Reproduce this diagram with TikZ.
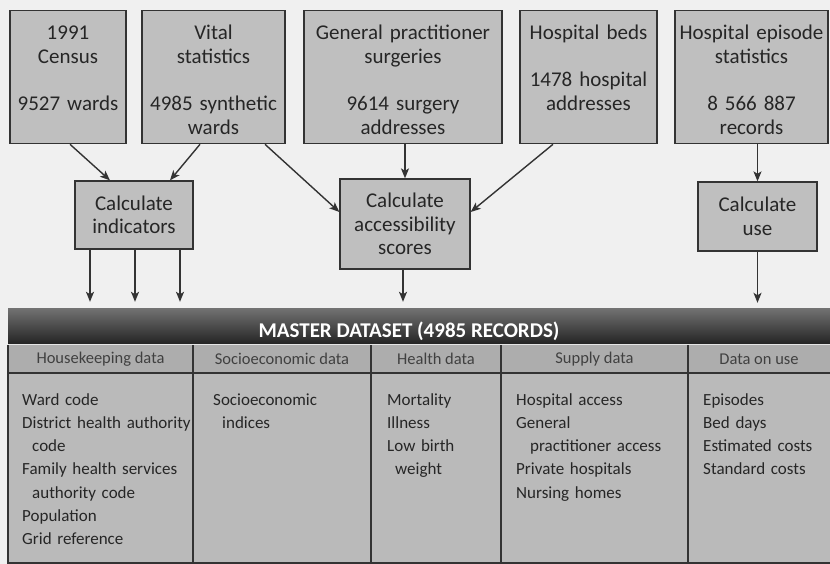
\documentclass[tikz,border=0pt]{standalone}
\usepackage{fontspec}
\setmainfont{Carlito}
\usetikzlibrary{arrows.meta}
\hyphenpenalty=10000

\tikzset{
  srcbox/.style={draw=black!80, line width=1.3pt, fill=gray!50, inner sep=0pt,
    anchor=north, align=center, text width=#1, text height=29pt, text depth=104pt,
    minimum height=133pt, font=\fontsize{21}{24}\selectfont, text=black!85},
  calcbox/.style={draw=black!80, line width=1.3pt, fill=gray!50, inner sep=0pt,
    align=center, font=\fontsize{21}{23.5}\selectfont, text=black!85},
  arr/.style={-{Stealth[length=10pt,width=8pt,inset=2.5pt]}, line width=1.4pt, draw=black!80},
  hdtext/.style={font=\fontsize{16.5}{19}\selectfont, text=black!75, inner sep=0pt},
  coltext/.style={anchor=base west, inner sep=0pt, align=left, text width=#1,
    font=\fontsize{17}{23.3}\selectfont, text=black!85},
}

\begin{document}
\begin{tikzpicture}[x=1pt,y=-1pt]
\useasboundingbox (0,0) rectangle (830,564);
\fill[gray!12] (0,0) rectangle (830,564);

\node[srcbox=116pt] (census) at (68,10) {1991\\Census\\[23pt]9527 wards};
\node[srcbox=143pt] (vital) at (213.5,10) {Vital\\statistics\\[23pt]4985 synthetic\\wards};
\node[srcbox=198pt] (gp) at (403,10) {General practitioner\\surgeries\\[23pt]9614 surgery\\addresses};
\node[srcbox=137pt] (beds) at (588.5,10) {Hospital beds\\[23pt]1478 hospital\\addresses};
\node[srcbox=153pt] (hes) at (751.5,10) {Hospital episode\\statistics\\[23pt]8 566 887\\records};

\node[calcbox, minimum width=118pt, minimum height=68pt] (ind) at (134,215) {Calculate\\indicators};
\node[calcbox, minimum width=130pt, minimum height=90pt] (access) at (405,224) {Calculate\\accessibility\\scores};
\node[calcbox, minimum width=119pt, minimum height=69pt] (use) at (757.5,216.5) {Calculate\\use};

\fill[gray!64] (8,345) rectangle (835,373);
\fill[gray!54] (8,373) rectangle (835,563);
\node[inner sep=0pt, minimum width=827pt, minimum height=36pt,
  top color=black!55, bottom color=black!86] (master) at (421.5,326) {};
\node[anchor=base, inner sep=0pt, text=white, font=\bfseries\fontsize{21}{24}\selectfont]
  (title) at (409,337) {MASTER DATASET (4985 RECORDS)};
\draw[white!80!gray, line width=1pt] (8,344.5) -- (835,344.5);
\draw[black!80, line width=1.2pt] (8,373) -- (835,373);
\draw[black!80, line width=1.2pt] (8,345) -- (8,563) -- (835,563);
\foreach \dx in {193,371,501,688}
  \draw[black!80, line width=1.2pt] (\dx,345) -- (\dx,563);

\foreach \cx/\txt [count=\i] in {100.5/Housekeeping data, 282/Socioeconomic data,
    436/Health data, 594.5/Supply data, 759/Data on use}
  \node[hdtext] (head\i) at (\cx,359) {\txt};

\node[coltext=185pt] (house) at (22,405) {Ward code\\District health authority\\
  \hspace*{10pt}code\\Family health services\\\hspace*{10pt}authority code\\Population\\Grid reference};
\node[coltext=150pt] (socio) at (213,405) {Socioeconomic\\\hspace*{9pt}indices};
\node[coltext=115pt] (health) at (387,405) {Mortality\\Illness\\Low birth\\\hspace*{8pt}weight};
\node[coltext=170pt] (supply) at (516,405) {Hospital access\\General\\
  \hspace*{14pt}practitioner access\\Private hospitals\\Nursing homes};
\node[coltext=125pt] (usedata) at (703,405) {Episodes\\Bed days\\Estimated costs\\Standard costs};

\draw[arr] ([xshift=2pt]census.south) -- ([xshift=-24pt]ind.north);
\draw[arr] ([xshift=-13.5pt]vital.south) -- ([xshift=36pt]ind.north);
\draw[arr] ([xshift=51.5pt]vital.south) -- ([yshift=12pt]access.west);
\draw[arr] (access.north |- gp.south) -- (access.north);
\draw[arr] ([xshift=-35.5pt]beds.south) -- ([yshift=12pt]access.east);
\draw[arr] (use.north |- hes.south) -- (use.north);
\foreach \sx in {-44,1,46}
  \draw[arr, shorten >=6pt] ([xshift=\sx pt]ind.south) -- ([xshift=\sx pt]ind.south |- master.north);
\draw[arr, shorten >=6pt] ([xshift=-2pt]access.south) -- ([xshift=-2pt]access.south |- master.north);
\draw[arr, shorten >=5pt] (use.south) -- (use.south |- master.north);
\end{tikzpicture}
\end{document}
